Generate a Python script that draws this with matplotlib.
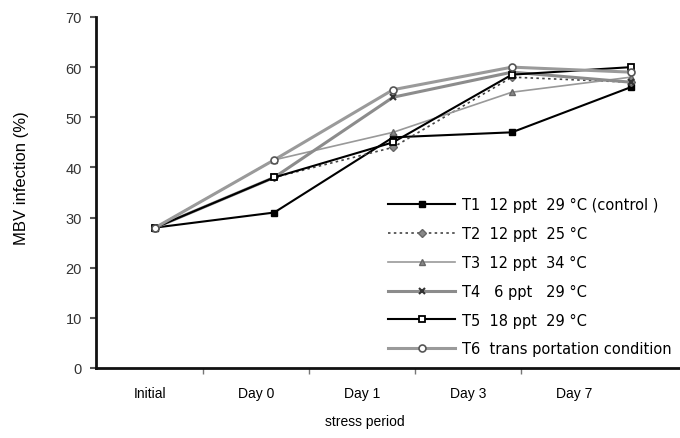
import numpy as np
import matplotlib
matplotlib.use("Agg")
import matplotlib.pyplot as plt

plt.rcParams['font.family'] = ['Liberation Sans', 'DejaVu Sans']

# ---------------- data ----------------
days = ["Initial", "Day 0", "Day 1", "Day 3", "Day 7"]
t1 = [28, 31, 46, 47, 56]
t2 = [28, 38, 44, 58, 57]
t3 = [28, 41.5, 47, 55, 58]
t4 = [28, 38, 54, 59, 57]
t5 = [28, 38, 45, 58.5, 60]
t6 = [28, 41.5, 55.5, 60, 59]

labels = ["T1  12 ppt  29 \u00b0C (control )",
          "T2  12 ppt  25 \u00b0C",
          "T3  12 ppt  34 \u00b0C",
          "T4   6 ppt   29 \u00b0C",
          "T5  18 ppt  29 \u00b0C",
          "T6  trans portation condition"]

x = np.arange(len(days))

fig = plt.figure(figsize=(6.8, 4.39), dpi=100)
ax = fig.add_axes([0.141, 0.1595, 0.874, 0.7995])

ax.plot(x, t1, color='black', lw=1.5, marker='s', ms=5, mfc='black', mec='black', label=labels[0])
ax.plot(x, t2, color='#444444', lw=1.2, ls=(0, (1.5, 2)), marker='D', ms=4, mfc='#888888', mec='#666666', label=labels[1])
ax.plot(x, t3, color='#999999', lw=1.2, marker='^', ms=5, mfc='#888888', mec='#666666', label=labels[2])
ax.plot(x, t4, color='#8c8c8c', lw=2.2, marker='x', ms=5, mec='#333333', mew=1.5, label=labels[3])
ax.plot(x, t5, color='black', lw=1.5, marker='s', ms=5, mfc='white', mec='black', mew=1.3, label=labels[4])
ax.plot(x, t6, color='#9a9a9a', lw=2.2, marker='o', ms=5, mfc='white', mec='#555555', mew=1.2, label=labels[5])

ax.set_xlim(-0.5, 4.5)
ax.set_ylim(0, 70)
ax.set_yticks(np.arange(0, 71, 10))

# category labels and separator ticks
label_pos = -0.045 + 0.893 * np.arange(len(days))
bounds = label_pos[:-1] + 0.4465
ax.set_xticks(bounds)
ax.set_xticklabels([])
ax.tick_params(axis='x', which='major', length=4, width=1, color='#777777', direction='out')
ax.set_xticks(label_pos, minor=True)
ax.set_xticklabels(days, minor=True)
ax.tick_params(axis='x', which='minor', length=0, pad=13, labelsize=10)

ax.tick_params(axis='y', length=4, width=1.5, color='#555555', labelsize=10.5, labelcolor='#333333', pad=6)

for side in ['top', 'right']:
    ax.spines[side].set_visible(False)
for side in ['left', 'bottom']:
    ax.spines[side].set_linewidth(2)
    ax.spines[side].set_color('#111111')

ax.set_ylabel("MBV infection (%)", fontsize=12)
ax.yaxis.set_label_coords(-0.113, 0.544)
ax.set_xlabel("stress period", fontsize=10)
ax.xaxis.set_label_coords(0.453, -0.13)

ax.legend(loc='upper left', bbox_to_anchor=(0.4916, 0.487), frameon=False,
          prop={'family': 'DejaVu Sans', 'size': 10.5}, handlelength=4.6,
          labelspacing=0.95, handletextpad=0.5, borderaxespad=0, borderpad=0)

fig.savefig("out.png", dpi=100)
